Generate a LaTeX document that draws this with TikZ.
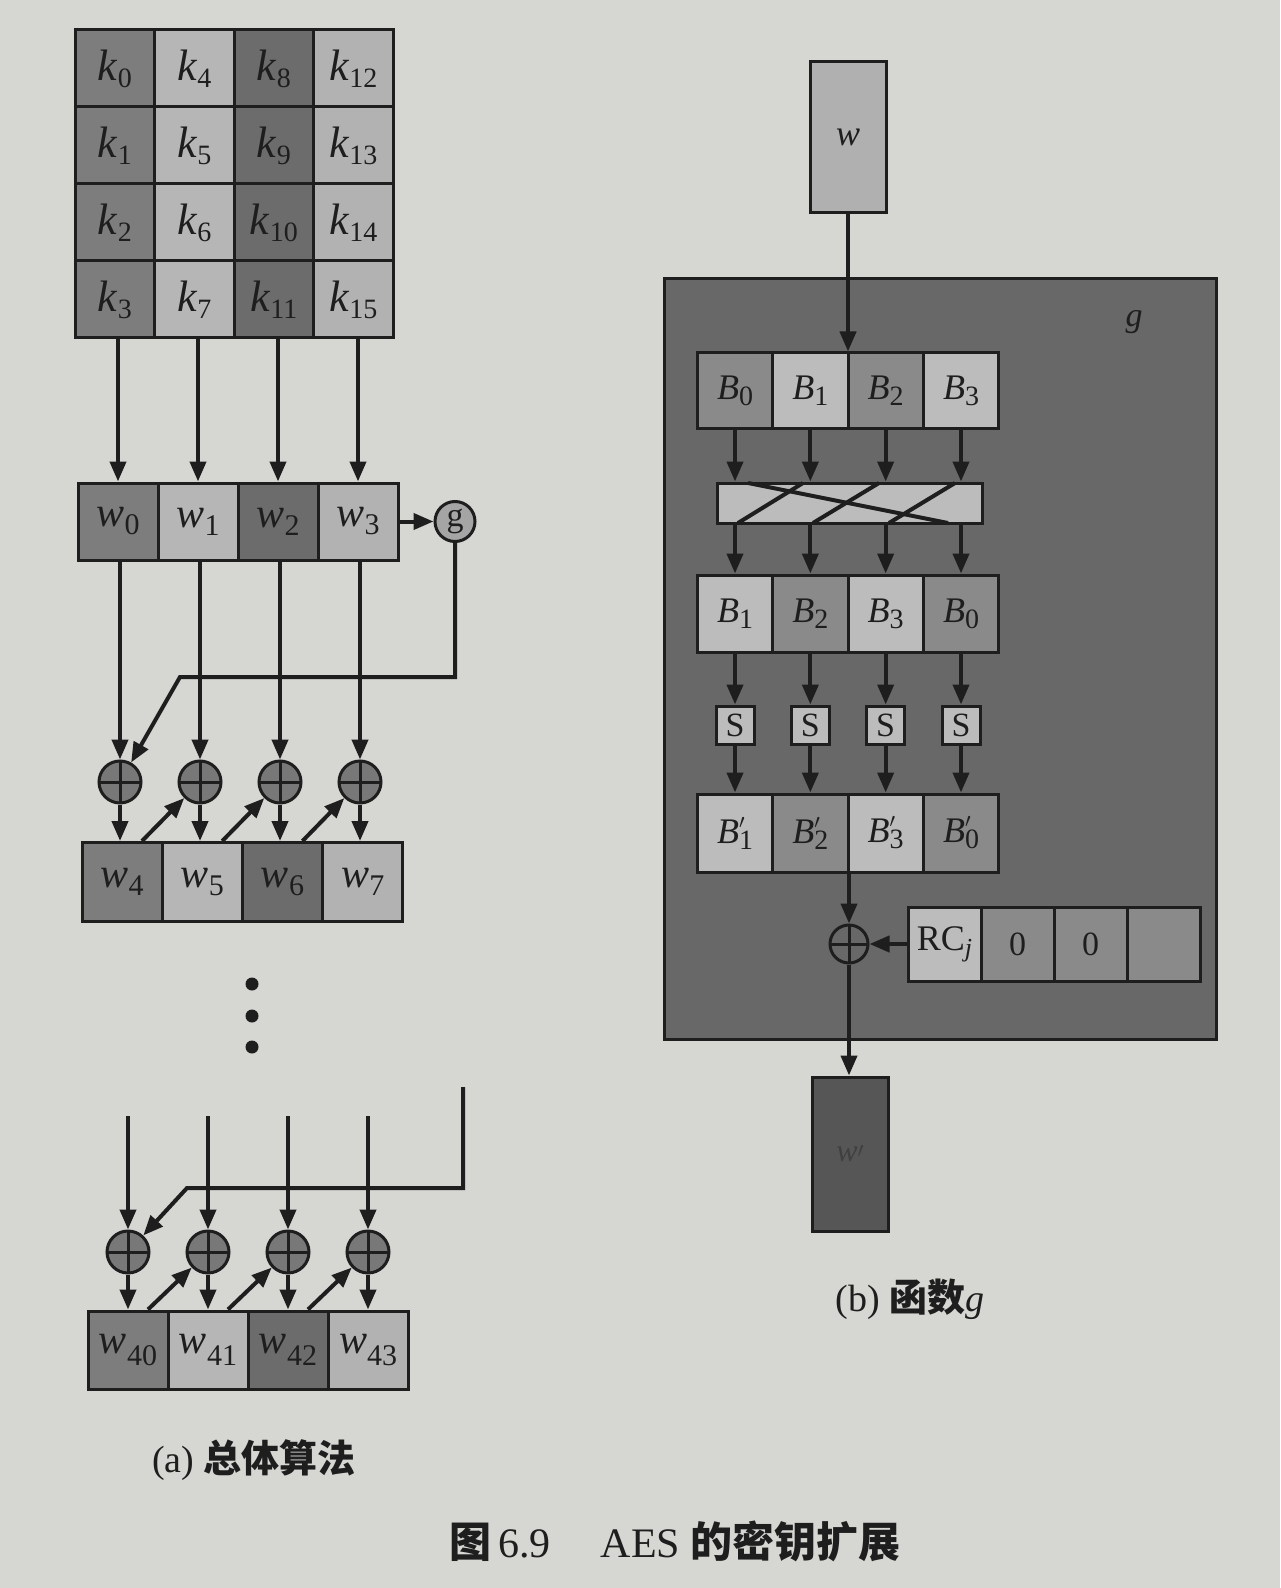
\documentclass[tikz,border=0pt]{standalone}
\usepackage{fontspec}
\setmainfont{Liberation Serif}
\newfontfamily\cjk{Noto Sans CJK SC}
\usetikzlibrary{arrows.meta}
\definecolor{paper}{RGB}{214,214,211}
\definecolor{ln}{RGB}{30,30,30}
\definecolor{dkA}{RGB}{125,125,125}
\definecolor{dkB}{RGB}{108,108,108}
\definecolor{ltA}{RGB}{182,182,182}
\definecolor{ltB}{RGB}{178,178,178}
\definecolor{panel}{RGB}{104,104,104}
\definecolor{bmed}{RGB}{138,138,138}
\definecolor{blt}{RGB}{188,188,188}
\definecolor{xorf}{RGB}{120,120,120}
\definecolor{gf}{RGB}{165,165,165}
\definecolor{wbox}{RGB}{176,176,176}
\definecolor{wpbox}{RGB}{86,86,86}
\newcommand\lbl[4]{\textit{#1}\raisebox{-#3}{\fontsize{#4}{#4}\selectfont #2}}
\newcommand\lblp[4]{\textit{#1}\makebox[0pt][l]{\raisebox{7.5pt}{\fontsize{10}{10}\selectfont$\prime$}}\raisebox{-#3}{\fontsize{#4}{#4}\selectfont #2}}
\tikzset{
  bx/.style={draw=ln, line width=1.5pt, inner sep=0pt, text=ln},
  kc/.style={bx, minimum width=39.75pt, minimum height=38.5pt, font=\fontsize{22}{22}\selectfont},
  wc/.style={bx, minimum width=40pt, minimum height=38.5pt, font=\fontsize{21}{21}\selectfont},
  bc/.style={bx, minimum width=37.67pt, minimum height=38pt, font=\fontsize{18}{18}\selectfont},
  xorpic/.style={path picture={\draw[ln, line width=1.5pt] (path picture bounding box.north) -- (path picture bounding box.south) (path picture bounding box.west) -- (path picture bounding box.east);}},
  xr/.style={circle, draw=ln, line width=1.5pt, fill=xorf, minimum size=21pt, inner sep=0pt, xorpic},
  arr/.style={draw=ln, line width=2pt, -{Triangle[length=10pt,width=8pt]}},
  dotn/.style={circle, fill=ln, minimum size=6.5pt, inner sep=0pt},
}
\begin{document}
\begin{tikzpicture}[x=0.5pt,y=-0.5pt]
\useasboundingbox (0,0) rectangle (1280,1588);
\fill[paper] (0,0) rectangle (1280,1588);

% ---------- (a) left part ----------
\foreach \c/\fc in {0/dkA,1/ltA,2/dkB,3/ltB}{
  \foreach \r in {0,...,3}{
    \pgfmathtruncatemacro\n{4*\c+\r}
    \node[kc, fill=\fc] (k\n) at ({114.75+79.5*\c},{68.5+77*\r}) {\lbl{k}{\n}{3.5pt}{14}};
  }
}
\foreach \i/\fc in {0/dkA,1/ltA,2/dkB,3/ltB}
  \node[wc, fill=\fc] (w\i) at ({118+80*\i},521.5) {\lbl{w}{\i}{4pt}{15}};
\foreach \i/\j in {0/3,1/7,2/11,3/15}
  \draw[arr] (w\i.north |- k\j.south) -- (w\i.north);

\node[circle, draw=ln, line width=1.5pt, fill=gf, minimum size=20pt, inner sep=0pt, font=\fontsize{17}{17}\selectfont, text=ln] (g) at (455,521.5) {g};
\draw[arr] (w3.east) -- (g.west);

\foreach \i in {0,...,3}
  \node[xr] (x\i) at ({120+80*\i},782) {};
\foreach \i in {0,...,3}
  \draw[arr] (x\i |- w\i.south) -- (x\i.north);
\coordinate (gA) at (455,677);
\coordinate (gB) at (180,677);
\draw[arr] (g.south) -- (gA) -- (gB) -- (x0);

\foreach \i/\fc in {0/dkA,1/ltA,2/dkB,3/ltB}{
  \pgfmathtruncatemacro\n{\i+4}
  \node[wc, minimum height=39.5pt, fill=\fc] (w\n) at ({122+80.25*\i},882) {\lbl{w}{\n}{4pt}{15}};
}
\foreach \i in {0,...,3}{
  \pgfmathtruncatemacro\n{\i+4}
  \draw[arr] (x\i.south) -- (x\i.south |- w\n.north);
}
\foreach \i/\j in {4/1,5/2,6/3}
  \draw[arr] ([xshift=10pt]w\i.north) -- (x\j);

\node[dotn] (d1) at (252,984) {};
\node[dotn] (d2) at (252,1016) {};
\node[dotn] (d3) at (252,1047) {};

\foreach \i in {0,...,3}{
  \node[xr] (xb\i) at ({128+80*\i},1252) {};
  \coordinate (t\i) at ({128+80*\i},1116);
  \draw[arr] (t\i) -- (xb\i.north);
}
\coordinate (r1) at (463,1087);
\coordinate (r2) at (463,1188);
\coordinate (r3) at (187,1188);
\draw[arr] (r1) -- (r2) -- (r3) -- (xb0);

\foreach \i/\fc in {0/dkA,1/ltA,2/dkB,3/ltB}{
  \pgfmathtruncatemacro\n{\i+40}
  \node[wc, minimum height=39pt, fill=\fc] (w\n) at ({128+80*\i},1350) {\lbl{w}{\n}{6pt}{15}};
}
\foreach \i in {0,...,3}{
  \pgfmathtruncatemacro\n{\i+40}
  \draw[arr] (xb\i.south) -- (xb\i.south |- w\n.north);
}
\foreach \i/\j in {40/1,41/2,42/3}
  \draw[arr] ([xshift=10pt]w\i.north) -- (xb\j);

\node[font=\fontsize{19}{19}\selectfont, text=ln] (capa) at (254,1460) {(a) {\cjk\bfseries 总体算法}};

% ---------- (b) right part ----------
\node[bx, fill=wbox, minimum width=38pt, minimum height=75.5pt, font=\fontsize{18}{18}\selectfont] (win) at (848,137.5) {\textit{w}};
\node[bx, fill=panel, minimum width=276pt, minimum height=380.5pt, anchor=north west] (gp) at (663,277) {};
\node[font=\fontsize{17}{17}\selectfont\itshape, text=ln] (glab) at (1134,322) {g};

\foreach \i/\fc/\s in {0/bmed/0,1/blt/1,2/bmed/2,3/blt/3}
  \node[bc, fill=\fc] (b\i) at ({735+75.33*\i},391) {\lbl{B}{\s}{3pt}{14}};
\draw[arr] (win.south) -- (win.south |- b1.north);

\node[bx, fill=blt, minimum width=132.5pt, minimum height=20pt] (perm) at (849.5,503) {};
\foreach \i in {0,...,3}
  \draw[arr] (b\i.south) -- (b\i.south |- perm.north);
\begin{scope}
  \clip (perm.north west) rectangle (perm.south east);
  \draw[ln, line width=2pt] (738,523) -- (803,483) (813,523) -- (879,483) (889,523) -- (955,483);
  \draw[ln, line width=2pt] (748,483) -- (948,523);
\end{scope}
\node[bx, fill=none, minimum width=132.5pt, minimum height=20pt] (permb) at (849.5,503) {};

\foreach \i/\fc/\s in {0/blt/1,1/bmed/2,2/blt/3,3/bmed/0}
  \node[bc, minimum height=38.5pt, fill=\fc] (c\i) at ({735+75.33*\i},613.5) {\lbl{B}{\s}{3pt}{14}};
\foreach \i in {0,...,3}
  \draw[arr] (c\i.north |- perm.south) -- (c\i.north);

\foreach \i in {0,...,3}
  \node[bx, fill=blt, minimum size=19pt, font=\fontsize{17}{17}\selectfont] (s\i) at ({735+75.33*\i},725) {S};
\foreach \i in {0,...,3}
  \draw[arr] (c\i.south) -- (s\i.north);

\foreach \i/\fc/\s in {0/blt/1,1/bmed/2,2/blt/3,3/bmed/0}
  \node[bc, minimum height=39pt, fill=\fc] (d\i) at ({735+75.33*\i},833) {\lblp{B}{\s}{3pt}{14}};
\foreach \i in {0,...,3}
  \draw[arr] (s\i.south) -- (s\i.south |- d\i.north);

\node[circle, draw=ln, line width=1.5pt, minimum size=19pt, inner sep=0pt, xorpic] (xr) at (849,944) {};
\draw[arr] (xr |- d1.south) -- (xr.north);

\node[bx, fill=blt, minimum width=36.5pt, minimum height=37pt, font=\fontsize{18}{18}\selectfont] (rc0) at (944.5,944) {RC\raisebox{-3pt}{\fontsize{13}{13}\selectfont\textit{j}}};
\node[bx, fill=bmed, minimum width=36.5pt, minimum height=37pt, font=\fontsize{17}{17}\selectfont] (rc1) at (1017.5,944) {0};
\node[bx, fill=bmed, minimum width=36.5pt, minimum height=37pt, font=\fontsize{17}{17}\selectfont] (rc2) at (1090.5,944) {0};
\node[bx, fill=bmed, minimum width=36.5pt, minimum height=37pt] (rc3) at (1163.5,944) {};
\draw[arr] (rc0.west) -- (xr.east);

\node[bx, fill=wpbox, minimum width=38pt, minimum height=77pt, font=\fontsize{16}{16}\selectfont, text=black!75] (wout) at (850,1154) {\textit{w}\raisebox{2pt}{\fontsize{11}{11}\selectfont$\prime$}};
\draw[arr] (xr.south) -- (xr.south |- wout.north);

\node[font=\fontsize{19}{19}\selectfont, text=ln] (capb) at (910,1299) {(b) {\cjk\bfseries 函数}\textit{g}};

% ---------- figure caption ----------
\node[font=\fontsize{21}{21}\selectfont, text=ln] (cap) at (675,1541) {{\cjk\bfseries 图}\,6.9\hspace{1.2em}AES {\cjk\bfseries 的密钥扩展}};
\end{tikzpicture}
\end{document}
